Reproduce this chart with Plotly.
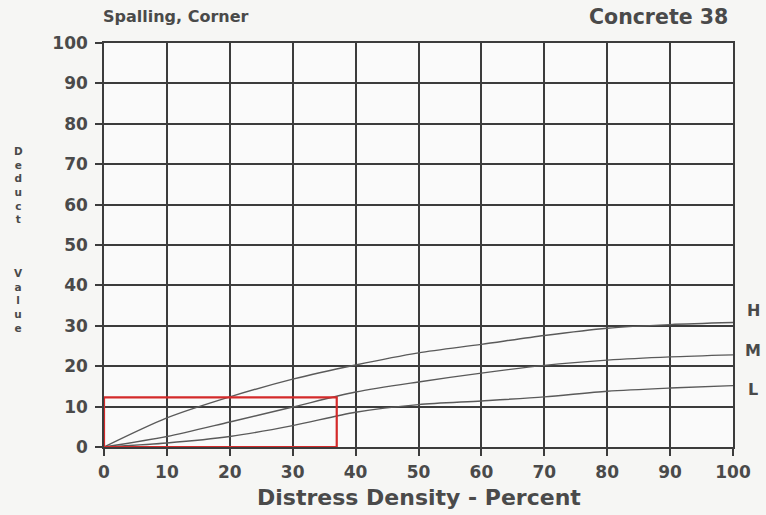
import plotly.graph_objects as go

# Data
density = [0, 10, 20, 30, 40, 50, 60, 70, 80, 90, 100]
deduct_H = [0, 7.2, 12.4, 16.8, 20.3, 23.3, 25.4, 27.6, 29.4, 30.3, 30.8]
deduct_M = [0, 2.6, 6.2, 9.9, 13.6, 16.1, 18.3, 20.2, 21.5, 22.3, 22.8]
deduct_L = [0, 1.0, 2.6, 5.3, 8.6, 10.5, 11.4, 12.4, 13.8, 14.6, 15.2]
severity_labels = ["H", "M", "L"]
severity_label_y = [33.8, 24.0, 14.2]
box_x = [0, 37]
box_y = [0, 12.3]
x_ticks = [0, 10, 20, 30, 40, 50, 60, 70, 80, 90, 100]
y_ticks = [0, 10, 20, 30, 40, 50, 60, 70, 80, 90, 100]

FONT = "DejaVu Sans"
TXT = "#4a4a4a"
GRID = "#3c3c3c"
CURVE = "#5a5a5a"

W, H = 766, 515
L, R, T, B = 104, 33, 43, 68
pw, ph = W - L - R, H - T - B


def px_x(px):
    return (px - L) / pw


def px_y(py):
    return (H - B - py) / ph


fig = go.Figure()
for ys in (deduct_H, deduct_M, deduct_L):
    fig.add_trace(go.Scatter(x=density, y=ys, mode="lines",
                             line=dict(color=CURVE, width=1.4, shape="spline", smoothing=0.8),
                             hoverinfo="skip", showlegend=False))

# red highlight box
fig.add_trace(go.Scatter(x=[box_x[0], box_x[1], box_x[1], box_x[0], box_x[0]],
                         y=[box_y[0], box_y[0], box_y[1], box_y[1], box_y[0]],
                         mode="lines", line=dict(color="#d42a2a", width=2.2),
                         showlegend=False, hoverinfo="skip", cliponaxis=False))

annotations = []
for lab, yv in zip(severity_labels, severity_label_y):
    annotations.append(dict(x=px_x(753), y=yv, xref="paper", yref="y", text="<b>%s</b>" % lab,
                            showarrow=False, font=dict(family=FONT, size=16, color=TXT),
                            xanchor="center", yanchor="middle"))

annotations.append(dict(x=px_x(101), y=px_y(17), xref="paper", yref="paper", text="<b>Spalling, Corner</b>",
                        showarrow=False, xanchor="left", yanchor="middle",
                        font=dict(family=FONT, size=16, color=TXT)))
annotations.append(dict(x=px_x(730), y=px_y(17), xref="paper", yref="paper", text="<b>Concrete 38</b>",
                        showarrow=False, xanchor="right", yanchor="middle",
                        font=dict(family=FONT, size=20.5, color=TXT)))
annotations.append(dict(x=px_x(419), y=px_y(497), xref="paper", yref="paper",
                        text="<b>Distress Density - Percent</b>",
                        showarrow=False, xanchor="center", yanchor="middle",
                        font=dict(family=FONT, size=22, color=TXT)))

y_words = ["Deduct", "Value"]
word_top = [143, 265]
for word, top in zip(y_words, word_top):
    annotations.append(dict(x=px_x(18), y=px_y(top), xref="paper", yref="paper",
                            text="<br>".join("<b>%s</b>" % ch for ch in word),
                            showarrow=False, xanchor="center", yanchor="top", align="center",
                            font=dict(family=FONT, size=10.5, color=TXT)))

axis_common = dict(range=[0, 100], showgrid=True, gridcolor=GRID, gridwidth=1.5, zeroline=False,
                   showline=True, linecolor=GRID, linewidth=1.5, mirror=True,
                   ticks="outside", ticklen=7, tickcolor=GRID, tickwidth=1.5,
                   tickfont=dict(family=FONT, size=17, color=TXT), fixedrange=True)

fig.update_layout(
    width=W, height=H,
    margin=dict(l=L, r=R, t=T, b=B),
    paper_bgcolor="#f6f6f4",
    plot_bgcolor="#fafafa",
    xaxis=dict(tickvals=x_ticks, ticktext=["<b>%d</b>" % v for v in x_ticks], **axis_common),
    yaxis=dict(tickvals=y_ticks, ticktext=["<b>%d</b>" % v for v in y_ticks], **axis_common),
    annotations=annotations,
    showlegend=False,
)
fig.update_xaxes(ticklabelstandoff=2)
fig.update_yaxes(ticklabelstandoff=4)

fig.write_html("out.html", config={"displayModeBar": False})
